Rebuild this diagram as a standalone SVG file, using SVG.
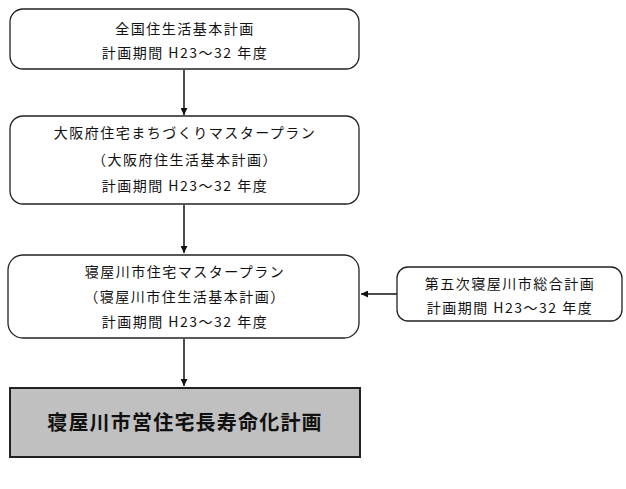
<svg xmlns="http://www.w3.org/2000/svg" width="626" height="489" viewBox="0 0 626 489">
<defs>
<style>
.box{fill:#fff;stroke:#222;stroke-width:1.3}
.t{font-family:"Noto Sans CJK JP","Noto Sans CJK SC",sans-serif;font-size:14px;fill:#111;text-anchor:middle;letter-spacing:1.5px}
.big{font-family:"Noto Sans CJK JP","Noto Sans CJK SC",sans-serif;font-size:20px;font-weight:bold;fill:#111;text-anchor:middle;letter-spacing:1.2px}
.c{stroke:#111;stroke-width:1.5;fill:none}
</style>
<marker id="ah" viewBox="0 0 10 10" refX="10" refY="5" markerWidth="7" markerHeight="7" orient="auto" markerUnits="userSpaceOnUse">
<path d="M0,0 L10,5 L0,10 z" fill="#111"/>
</marker>
</defs>
<rect width="626" height="489" fill="#fff"/>
<g id="connectors">
<line class="c" x1="184" y1="70" x2="184" y2="115" marker-end="url(#ah)"/>
<line class="c" x1="184" y1="205" x2="184" y2="253" marker-end="url(#ah)"/>
<line class="c" x1="397" y1="294" x2="361" y2="294" marker-end="url(#ah)"/>
<line class="c" x1="184" y1="339" x2="184" y2="386" marker-end="url(#ah)"/>
</g>
<g id="node1">
<rect class="box" x="10" y="9" width="349" height="60" rx="13"/>
<text class="t" x="185" y="34">全国住生活基本計画</text>
<text class="t" x="185" y="58">計画期間 H23～32 年度</text>
</g>
<g id="node2">
<rect class="box" x="10" y="116" width="349" height="88" rx="13"/>
<text class="t" x="185" y="138">大阪府住宅まちづくりマスタープラン</text>
<text class="t" x="185" y="165">（大阪府住生活基本計画）</text>
<text class="t" x="185" y="191">計画期間 H23～32 年度</text>
</g>
<g id="node3">
<rect class="box" x="8" y="255" width="351" height="83" rx="15"/>
<text class="t" x="185" y="277">寝屋川市住宅マスタープラン</text>
<text class="t" x="185" y="302">（寝屋川市住生活基本計画）</text>
<text class="t" x="185" y="327">計画期間 H23～32 年度</text>
</g>
<g id="node4">
<rect class="box" x="397" y="267" width="225" height="54" rx="11"/>
<text class="t" x="510" y="289">第五次寝屋川市総合計画</text>
<text class="t" x="510" y="313">計画期間 H23～32 年度</text>
</g>
<g id="node5">
<rect x="10" y="388" width="350" height="69" fill="#c0c0c0" stroke="#222" stroke-width="2"/>
<text class="big" x="185" y="430">寝屋川市営住宅長寿命化計画</text>
</g>
</svg>
